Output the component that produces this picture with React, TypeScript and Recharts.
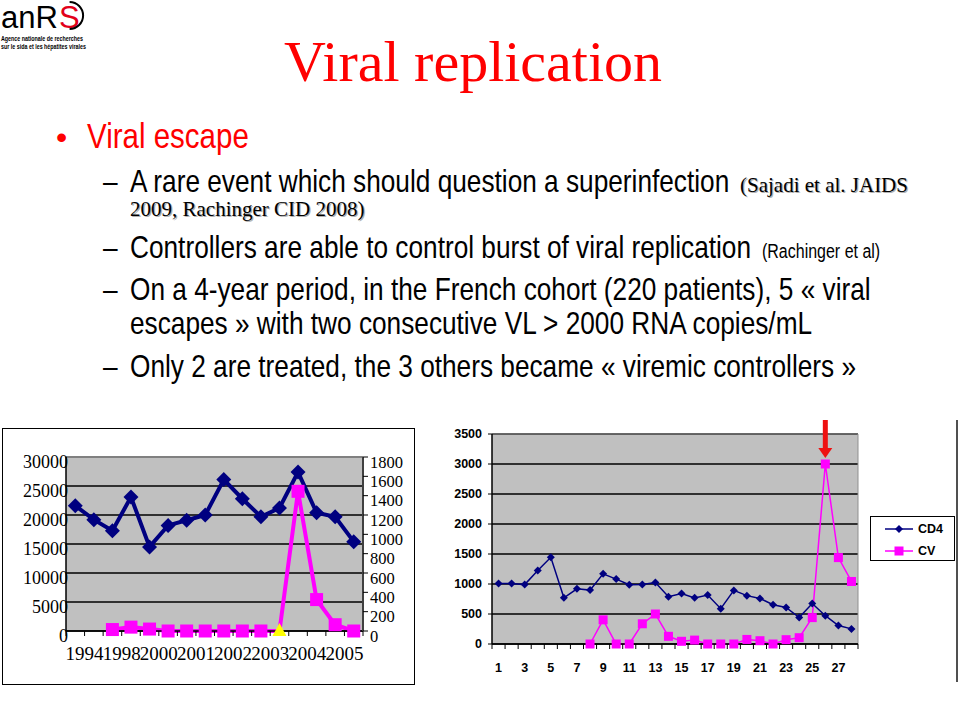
import React from 'react';
import { LineChart, Line, XAxis, YAxis, CartesianGrid, ReferenceLine, ReferenceDot, Legend } from 'recharts';

// ---------- Left chart (yearly follow-up) ----------
const leftVisits = [1, 2, 3, 4, 5, 6, 7, 8, 9, 10, 11, 12, 13, 14, 15, 16];
const leftYearLabels = ['1994', '1998', '2000', '2001', '2002', '2003', '2004', '2005'];
const leftCd4 = [21600, 19200, 17300, 23100, 14500, 18200, 19100, 20000, 26100, 22800, 19700, 21200, 27400, 20400, 19700, 15400];
const leftVl = [null, null, 15, 40, 20, 0, 0, 0, 0, 0, 0, 0, 1445, 325, 65, 0];
const leftMarker = [null, null, null, null, null, null, null, null, null, null, null, 0, null, null, null, null];
const leftTicksMain = [0, 5000, 10000, 15000, 20000, 25000, 30000];
const leftTicksSecond = [0, 200, 400, 600, 800, 1000, 1200, 1400, 1600, 1800];

// ---------- Right chart (visits) ----------
const rightVisits = [1, 2, 3, 4, 5, 6, 7, 8, 9, 10, 11, 12, 13, 14, 15, 16, 17, 18, 19, 20, 21, 22, 23, 24, 25, 26, 27, 28];
const rightXLabels = [1, 3, 5, 7, 9, 11, 13, 15, 17, 19, 21, 23, 25, 27];
const rightCd4 = [1010, 1010, 990, 1225, 1445, 770, 920, 898, 1170, 1082, 987, 992, 1026, 788, 843, 769, 815, 589, 893, 806, 759, 655, 610, 442, 674, 472, 307, 252];
const rightCv = [null, null, null, null, null, null, null, 0, 403, 0, 0, 337, 500, 128, 45, 65, 0, 0, 0, 76, 55, 0, 72, 105, 440, 3000, 1440, 1042];
const rightYTicks = [0, 500, 1000, 1500, 2000, 2500, 3000, 3500];
const arrowVisit = 26;
const arrowValue = 3000;

const leftData = leftVisits.map((visit, i) => ({ visit, cd4: leftCd4[i], vl: leftVl[i], mark: leftMarker[i] }));
const rightData = rightVisits.map((visit, i) => ({ visit, CD4: rightCd4[i], CV: rightCv[i] }));

const leftEdges = leftVisits.concat([leftVisits.length + 1]).map((v) => v - 0.5);
const rightEdges = rightVisits.concat([rightVisits.length + 1]).map((v) => v - 0.5);
const rightXTicks = [...rightEdges, ...rightXLabels].sort((a, b) => a - b);

const NAVY = '#000080';
const MAGENTA = '#FF00FF';
const SERIF = "'Liberation Serif', 'Times New Roman', serif";
const SANS = "'Liberation Sans', Arial, sans-serif";

const leftYearFormatter = (v: number) => {
  const k = (v - 1.5) / 2;
  return Number.isInteger(k) && k >= 0 && k < leftYearLabels.length ? leftYearLabels[k] : '';
};

const LeftYTick = (props: any) => {
  const { x, y, payload } = props;
  return (
    <text x={x + 2} y={y + 5} dy="0.35em" textAnchor="end" fontFamily={SERIF} fontSize={18} fill="#000">
      {payload.value}
    </text>
  );
};

const LeftY2Tick = (props: any) => {
  const { x, y, payload } = props;
  return (
    <text x={x} y={y + 5} dy="0.35em" textAnchor="start" fontFamily={SERIF} fontSize={16.5} fill="#000">
      {payload.value}
    </text>
  );
};

const RightXTick = (props: any) => {
  const { x, y, payload } = props;
  const v = payload.value;
  if (rightXLabels.includes(v)) {
    return (
      <text x={x} y={y + 19} dy="0.71em" textAnchor="middle" fontFamily={SANS} fontWeight="bold" fontSize={12.5} fill="#000">
        {v}
      </text>
    );
  }
  return <line x1={x} x2={x} y1={y} y2={y + 5} stroke="#000" strokeWidth={1} />;
};

const navyDiamondBig = (props: any) => {
  const { cx, cy, index } = props;
  if (cx == null || cy == null) return <g key={`nd-${index}`} />;
  const r = 7.5;
  return <path key={`nd-${index}`} d={`M${cx},${cy - r}L${cx + r},${cy}L${cx},${cy + r}L${cx - r},${cy}Z`} fill={NAVY} />;
};

const pinkSquareBig = (props: any) => {
  const { cx, cy, index, payload } = props;
  if (cx == null || cy == null || payload.mark != null) return <g key={`ps-${index}`} />;
  return <rect key={`ps-${index}`} x={cx - 6.5} y={cy - 6.5} width={13} height={13} fill={MAGENTA} />;
};

const yellowTriangle = (props: any) => {
  const { cx, cy, index } = props;
  if (cx == null || cy == null) return <g key={`yt-${index}`} />;
  return <polygon key={`yt-${index}`} points={`${cx},${cy - 8} ${cx + 7},${cy + 5} ${cx - 7},${cy + 5}`} fill="#FFFF00" />;
};

const navyDiamondSmall = (props: any) => {
  const { cx, cy, index } = props;
  if (cx == null || cy == null) return <g key={`sd-${index}`} />;
  const r = 4;
  return <path key={`sd-${index}`} d={`M${cx},${cy - r}L${cx + r},${cy}L${cx},${cy + r}L${cx - r},${cy}Z`} fill={NAVY} />;
};

const pinkSquareSmall = (props: any) => {
  const { cx, cy, index } = props;
  if (cx == null || cy == null) return <g key={`ss-${index}`} />;
  return <rect key={`ss-${index}`} x={cx - 4.5} y={cy - 4.5} width={9} height={9} fill={MAGENTA} />;
};

const RedArrow = (props: any) => {
  const { cx, cy } = props;
  if (cx == null || cy == null) return <g />;
  return (
    <g>
      <rect x={cx - 2.5} y={cy - 44} width={5} height={31} fill="#EE1111" />
      <polygon points={`${cx - 7},${cy - 16} ${cx + 7},${cy - 16} ${cx},${cy - 6}`} fill="#EE1111" />
    </g>
  );
};

const RightLegend = (props: any) => {
  const items = props.payload || [];
  return (
    <div style={{ paddingLeft: 12 }}>
      <div style={{ width: 85, height: 45, border: '1px solid #000', boxSizing: 'border-box', background: '#fff', paddingTop: 1 }}>
        {items.map((it: any) => (
          <div key={it.value} style={{ display: 'flex', alignItems: 'center', height: 22, marginTop: 0 }}>
            <svg width={47} height={12} style={{ display: 'block' }}>
              <line x1={14} x2={42} y1={6} y2={6} stroke={it.color} strokeWidth={1.5} />
              {it.value === 'CD4' ? (
                <path d="M28,2L32,6L28,10L24,6Z" fill={NAVY} />
              ) : (
                <rect x={23.5} y={1.5} width={9} height={9} fill={MAGENTA} />
              )}
            </svg>
            <span style={{ font: `bold 12.5px ${SANS}`, color: '#000', lineHeight: '12px' }}>{it.value}</span>
          </div>
        ))}
      </div>
    </div>
  );
};

const Narrow = ({ x, y, size, fill = '#000', children }: any) => (
  <text transform={`translate(${x} ${y}) scale(0.82 1)`} fontFamily={SANS} fontSize={size} fill={fill}>
    {children}
  </text>
);

const Citation = ({ x, y, children }: any) => (
  <g>
    <text x={x + 1.2} y={y + 1.2} fontFamily={SERIF} fontSize={21} fill="#B0B0B0">{children}</text>
    <text x={x} y={y} fontFamily={SERIF} fontSize={21} fill="#000">{children}</text>
  </g>
);

export default function App() {
  return (
    <div style={{ position: 'absolute', left: 0, top: 0, width: 960, height: 720, background: '#fff', overflow: 'hidden' }}>
      <svg width={960} height={420} style={{ position: 'absolute', left: 0, top: 0 }}>
        {/* logo */}
        <text x={1} y={28} fontFamily={SANS} fontSize={31} fill="#000">anR</text>
        <text x={59} y={28} fontFamily={SANS} fontSize={31} fill="#E2001A">S</text>
        <path d="M69.6,2 A13.5 13.5 0 1 1 69.6,29" fill="none" stroke="#000" strokeWidth={2} />
        <text x={1} y={41} fontFamily={SANS} fontSize={6.5} fontWeight="bold" fill="#000" textLength={82} lengthAdjust="spacingAndGlyphs">Agence nationale de recherches</text>
        <text x={1} y={49} fontFamily={SANS} fontSize={6.5} fontWeight="bold" fill="#000" textLength={85} lengthAdjust="spacingAndGlyphs">sur le sida et les hépatites virales</text>

        {/* title */}
        <text x={473} y={81} textAnchor="middle" fontFamily={SERIF} fontSize={58} fill="#FF0000">Viral replication</text>

        {/* bullets */}
        <text x={56} y={148} fontFamily={SANS} fontSize={32} fill="#FF0000">•</text>
        <Narrow x={87} y={148} size={36} fill="#FF0000">Viral escape</Narrow>

        <Narrow x={103} y={192} size={32}>–</Narrow>
        <Narrow x={130} y={192} size={32}>A rare event which should question a superinfection</Narrow>
        <Citation x={740} y={192}>(Sajadi et al. JAIDS</Citation>
        <Citation x={130} y={216}>2009, Rachinger CID 2008)</Citation>

        <Narrow x={103} y={258} size={32}>–</Narrow>
        <Narrow x={130} y={258} size={32}>Controllers are able to control burst of viral replication</Narrow>
        <Narrow x={762} y={258} size={19.5}>(Rachinger et al)</Narrow>

        <Narrow x={103} y={300} size={32}>–</Narrow>
        <Narrow x={130} y={300} size={32}>On a 4-year period, in the French cohort (220 patients), 5 « viral</Narrow>
        <Narrow x={130} y={334} size={32}>escapes » with two consecutive VL &gt; 2000 RNA copies/mL</Narrow>

        <Narrow x={103} y={377} size={32}>–</Narrow>
        <Narrow x={130} y={377} size={32}>Only 2 are treated, the 3 others became « viremic controllers »</Narrow>
      </svg>

      {/* left chart frame */}
      <div style={{ position: 'absolute', left: 2, top: 428, width: 413, height: 257, border: '1px solid #000', boxSizing: 'border-box', background: '#fff' }} />
      <div style={{ position: 'absolute', left: 2, top: 428 }}>
        <LineChart width={412} height={256} data={leftData} margin={{ top: 29, right: 0, bottom: 0, left: 0 }}>
          <CartesianGrid yAxisId="main" vertical={false} stroke="#000" strokeWidth={1.3} fill="#C0C0C0" fillOpacity={1} />
          <XAxis
            dataKey="visit"
            type="number"
            domain={[0.5, 16.5]}
            allowDataOverflow
            ticks={leftEdges}
            interval={0}
            height={53}
            tickSize={5}
            tickMargin={11}
            tickLine={{ stroke: '#000' }}
            axisLine={{ stroke: '#000', strokeWidth: 1.5 }}
            tickFormatter={leftYearFormatter}
            tick={{ fontSize: 19, fontFamily: SERIF, fill: '#000' }}
          />
          <YAxis
            yAxisId="main"
            domain={[0, 30000]}
            ticks={leftTicksMain}
            interval={0}
            width={64}
            tickSize={0}
            tickMargin={0}
            tickLine={false}
            axisLine={{ stroke: '#000', strokeWidth: 1.5 }}
            tick={LeftYTick}
          />
          <YAxis
            yAxisId="second"
            orientation="right"
            domain={[0, 1800]}
            ticks={leftTicksSecond}
            interval={0}
            width={51}
            tickSize={5}
            tickMargin={2}
            tickLine={{ stroke: '#000' }}
            axisLine={{ stroke: '#404040', strokeWidth: 2 }}
            tick={LeftY2Tick}
          />
          <ReferenceLine yAxisId="main" y={30000} stroke="#808080" strokeWidth={2} />
          <Line yAxisId="main" dataKey="cd4" stroke={NAVY} strokeWidth={4} dot={navyDiamondBig} activeDot={false} isAnimationActive={false} />
          <Line yAxisId="second" dataKey="vl" stroke={MAGENTA} strokeWidth={4} dot={pinkSquareBig} activeDot={false} isAnimationActive={false} />
          <Line yAxisId="second" dataKey="mark" stroke="none" dot={yellowTriangle} activeDot={false} isAnimationActive={false} />
        </LineChart>
      </div>

      {/* right chart */}
      <div style={{ position: 'absolute', left: 440, top: 415 }}>
        <LineChart width={520} height={270} data={rightData} margin={{ top: 19, right: 5, bottom: 0, left: 0 }}>
          <CartesianGrid vertical={false} stroke="#000" strokeWidth={1.5} fill="#C0C0C0" fillOpacity={1} />
          <CartesianGrid
            horizontalCoordinatesGenerator={({ offset }: any) => [offset.top]}
            verticalCoordinatesGenerator={({ offset }: any) => [offset.left + offset.width]}
            stroke="#909090"
            strokeWidth={1}
          />
          <XAxis
            dataKey="visit"
            type="number"
            domain={[0.5, 28.5]}
            allowDataOverflow
            ticks={rightXTicks}
            interval={0}
            height={41}
            tickSize={0}
            tickMargin={0}
            tickLine={false}
            axisLine={{ stroke: '#000', strokeWidth: 1.5 }}
            tick={RightXTick}
          />
          <YAxis
            domain={[0, 3500]}
            ticks={rightYTicks}
            interval={0}
            width={52}
            tickSize={4}
            tickMargin={6}
            tickLine={{ stroke: '#000' }}
            axisLine={{ stroke: '#000', strokeWidth: 1.5 }}
            tick={{ fontSize: 12.5, fontWeight: 'bold', fontFamily: SANS, fill: '#000' }}
          />
          <Legend layout="vertical" align="right" verticalAlign="top" wrapperStyle={{ top: 101 }} content={RightLegend} />
          <Line name="CD4" dataKey="CD4" stroke={NAVY} strokeWidth={1.5} dot={navyDiamondSmall} activeDot={false} isAnimationActive={false} />
          <Line name="CV" dataKey="CV" stroke={MAGENTA} strokeWidth={1.5} dot={pinkSquareSmall} activeDot={false} isAnimationActive={false} />
          <ReferenceDot x={arrowVisit} y={arrowValue} ifOverflow="visible" shape={RedArrow} />
        </LineChart>
      </div>

      <div style={{ position: 'absolute', left: 956, top: 420, width: 2, height: 262, background: '#505050' }} />
    </div>
  );
}
